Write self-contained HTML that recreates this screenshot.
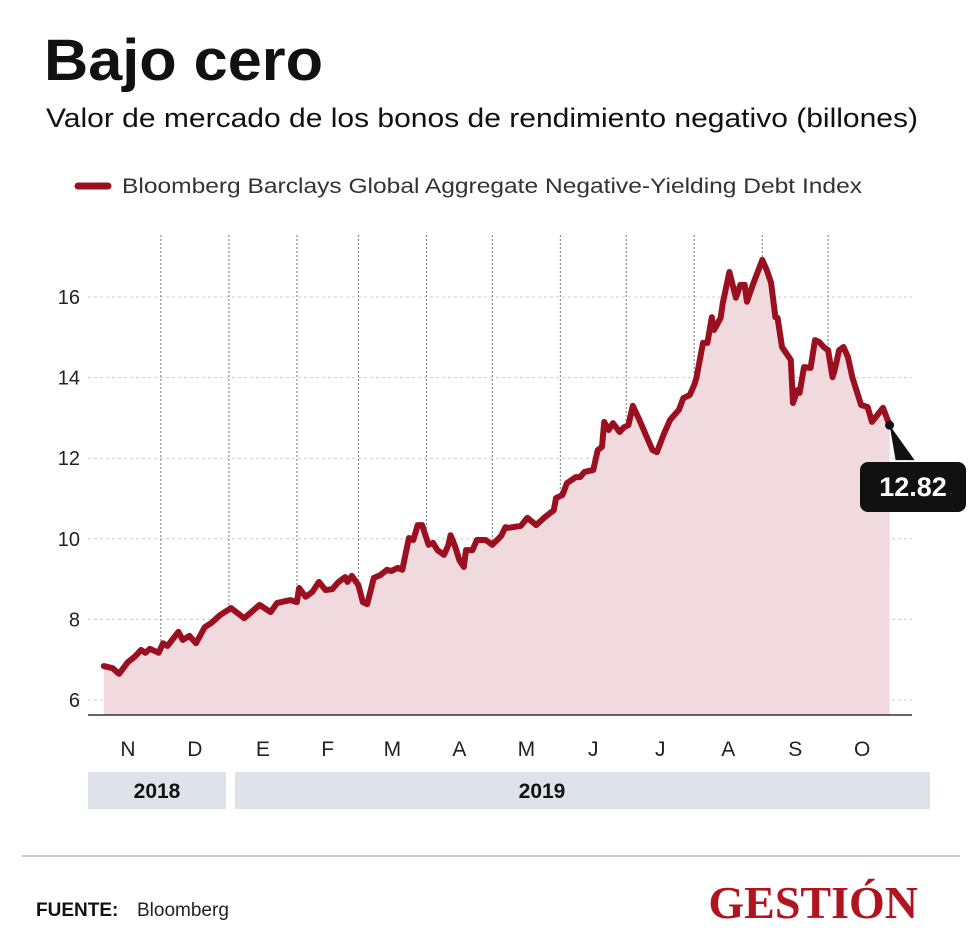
<!DOCTYPE html>
<html><head><meta charset="utf-8">
<style>
body{margin:0;background:#fff;width:980px;height:943px;overflow:hidden;font-family:"Liberation Sans",sans-serif;}
svg text{font-family:"Liberation Sans",sans-serif;}
</style></head>
<body>
<svg id="chart" width="980" height="943" viewBox="0 0 980 943">
<text x="44" y="80" font-size="58" font-weight="bold" fill="#111" textLength="279" lengthAdjust="spacingAndGlyphs">Bajo cero</text>
<text x="46" y="127" font-size="27" fill="#111" textLength="872" lengthAdjust="spacingAndGlyphs">Valor de mercado de los bonos de rendimiento negativo (billones)</text>
<line x1="78" y1="186" x2="108" y2="186" stroke="#9b1020" stroke-width="7" stroke-linecap="round"/>
<text x="122" y="193" font-size="21" fill="#333" textLength="740" lengthAdjust="spacingAndGlyphs">Bloomberg Barclays Global Aggregate Negative-Yielding Debt Index</text>
<g id="grid"></g>
<g id="plot"></g>
<g id="axes"></g>
<rect x="88" y="772" width="138" height="37" fill="#dde3e8"/>
<text x="157" y="798" font-size="21" font-weight="bold" text-anchor="middle" fill="#111">2018</text>
<rect x="235" y="772" width="695" height="37" fill="#dde3e8"/>
<text x="542" y="798" font-size="21" font-weight="bold" text-anchor="middle" fill="#111">2019</text>
<line x1="22" y1="856" x2="960" y2="856" stroke="#bbb" stroke-width="1.5"/>
<text x="36" y="916" font-size="19" font-weight="bold" fill="#111">FUENTE:</text>
<text x="137" y="916" font-size="19" fill="#222">Bloomberg</text>
<text x="918" y="918" font-size="46" font-weight="bold" text-anchor="end" fill="#b0141e" style="font-family:'Liberation Serif',serif">GESTIÓN</text>
</svg>
<script>
const days=[4,8,11,15,18,21,23,25,29,31,33,38,40,43,46,50,53,56,57,62,68,75,80,83,89,92,93,96,99,102,105,108,111,114,115,117,120,122,124,127,130,133,135,138,140,143,145,147,149,152,154,156,159,161,162,164,166,168,169,172,174,178,181,185,187,188,194,197,201,205,209,210,213,215,219,221,223,227,229,231,232,234,236,239,241,243,245,248,252,254,256,259,262,266,268,271,273,274,277,279,281,282,285,286,289,292,294,296,297,300,304,306,308,310,311,313,317,318,320,321,323,326,328,330,332,334,336,337,339,341,343,345,349,352,354,359,362];
const values=[6.84,6.79,6.65,6.94,7.07,7.24,7.17,7.27,7.17,7.41,7.34,7.69,7.49,7.59,7.41,7.81,7.91,8.06,8.11,8.28,8.03,8.36,8.18,8.41,8.48,8.43,8.78,8.56,8.68,8.93,8.73,8.75,8.93,9.05,8.93,9.08,8.85,8.43,8.38,9.03,9.10,9.23,9.20,9.28,9.23,10.02,9.97,10.34,10.34,9.85,9.90,9.72,9.60,9.85,10.09,9.82,9.47,9.30,9.72,9.72,9.97,9.97,9.85,10.07,10.29,10.27,10.32,10.52,10.34,10.54,10.71,11.01,11.09,11.38,11.53,11.53,11.66,11.71,12.20,12.28,12.90,12.70,12.87,12.65,12.77,12.82,13.30,12.95,12.45,12.20,12.15,12.58,12.95,13.20,13.49,13.57,13.82,13.99,14.86,14.86,15.50,15.18,15.48,15.85,16.62,15.98,16.30,16.30,15.88,16.35,16.92,16.67,16.35,15.50,15.48,14.76,14.44,13.37,13.69,13.62,14.26,14.24,14.93,14.88,14.76,14.68,14.01,14.19,14.68,14.76,14.51,14.01,13.32,13.27,12.90,13.25,12.82];
const yTicks=[6,8,10,12,14,16];
const monthLabels=["N","D","E","F","M","A","M","J","J","A","S","O"];
const monthStarts=[0,30,61,92,120,151,181,212,242,273,304,334,365];
const NS="http://www.w3.org/2000/svg";
const X=d=>95+d*2.195;
const Y=v=>700-(v-6)*40.3;
function mk(tag,attrs,parent){const e=document.createElementNS(NS,tag);for(const k in attrs)e.setAttribute(k,attrs[k]);parent.appendChild(e);return e;}
const grid=document.getElementById('grid'),plot=document.getElementById('plot'),axes=document.getElementById('axes');
yTicks.forEach(t=>{
 const l=mk('line',{x1:88,x2:912,y1:Y(t),y2:Y(t),stroke:'#ccc','stroke-width':1,'stroke-dasharray':'3,3'},grid);
 
 
 const tx=mk('text',{x:80,y:Y(t)+7,'font-size':20,'text-anchor':'end',fill:'#222'},axes);
 tx.textContent=t;
 
 
});
monthStarts.slice(1,-1).forEach(d=>{
 const l=mk('line',{x1:X(d),x2:X(d),y1:235,y2:715,stroke:'#777','stroke-width':1,'stroke-dasharray':'2,2'},grid);
 
 
});
monthLabels.forEach((m,i)=>{
 const cx=X((monthStarts[i]+monthStarts[i+1])/2);
 const tx=mk('text',{x:cx,y:756,'font-size':21,'text-anchor':'middle',fill:'#222'},axes);
 tx.textContent=m;
 
 
});
let pts=days.map((d,i)=>X(d).toFixed(1)+','+Y(values[i]).toFixed(1));
const area=mk('path',{d:'M'+X(days[0])+',715 L'+pts.join(' L')+' L'+X(days[days.length-1])+',715 Z',fill:'#f0dadd'},plot);


const line=mk('path',{d:'M'+pts.join(' L'),fill:'none',stroke:'#9b1020','stroke-width':6,'stroke-linejoin':'round','stroke-linecap':'round'},plot);


const ax=mk('line',{x1:88,x2:912,y1:715,y2:715,stroke:'#333','stroke-width':1.5},axes);


const lx=X(days[days.length-1]),ly=Y(values[values.length-1]);
const ptr=mk('path',{d:`M${lx},${ly} L${lx+6},${ly+35} L${lx+25},${ly+35} Z`,fill:'#111'},axes);


const box=mk('rect',{x:860,y:462,width:106,height:50,rx:8,fill:'#111'},axes);


const bt=mk('text',{x:913,y:496,'font-size':27,'font-weight':'bold','text-anchor':'middle',fill:'#fff'},axes);
bt.textContent=values[values.length-1].toFixed(2);


const dot=mk('circle',{cx:lx,cy:ly,r:4.5,fill:'#111'},axes);


</script>
</body></html>
